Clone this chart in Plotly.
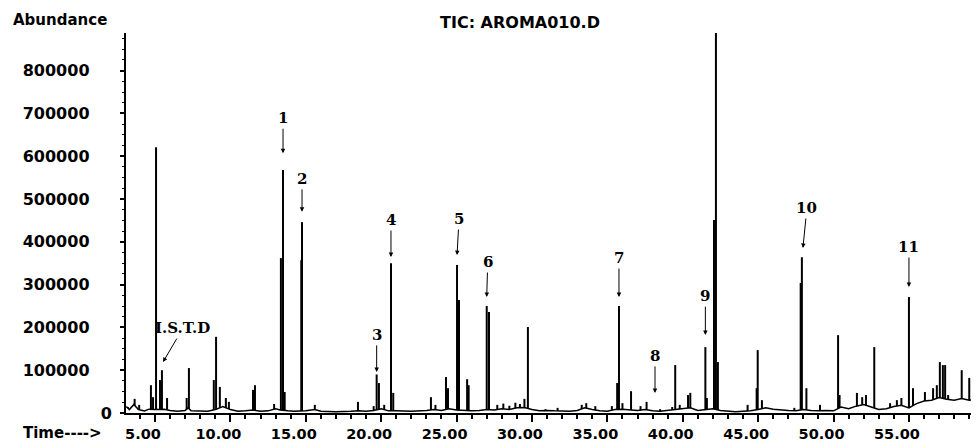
import plotly.graph_objects as go
import numpy as np

# ---- data ----
peak_time = [3.2, 3.65, 3.95, 4.73, 4.87, 5.07, 5.33, 5.46, 5.8, 7.1, 7.25, 8.9, 9.05, 9.3,
             9.7, 9.9, 11.5, 11.63, 12.9, 13.35, 13.49, 13.6, 14.7, 14.75, 15.6, 18.46, 19.5,
             19.7, 19.85, 20.2, 20.65, 20.8, 23.3, 23.6, 24.3, 24.43, 25.03, 25.16, 25.7, 25.8,
             27.0, 27.15, 27.7, 28.1, 28.5, 28.9, 29.2, 29.5, 29.73, 30.9, 31.7, 33.3, 33.6,
             34.2, 35.3, 35.65, 35.77, 36.0, 36.57, 37.2, 37.6, 38.5, 39.3, 39.5, 39.8, 40.35,
             40.5, 41.5, 41.6, 42.07, 42.2, 42.33, 44.3, 44.9, 44.97, 45.25, 47.4, 47.82, 47.9,
             48.2, 49.1, 50.3, 50.4, 51.55, 51.9, 52.15, 52.7, 53.75, 54.2, 54.5, 55.0, 55.27,
             56.06, 56.6, 56.85, 57.05, 57.25, 57.4, 57.6, 58.5, 59.0, 59.4]
peak_abund = [14000, 33000, 19000, 65000, 37000, 621000, 77000, 100000, 35000, 35000, 105000,
              77000, 178000, 61000, 35000, 26000, 54000, 65000, 21000, 362000, 568000, 49000,
              357000, 446000, 19000, 26000, 16000, 90000, 70000, 19000, 350000, 47000, 37000,
              19000, 84000, 58000, 346000, 264000, 79000, 65000, 250000, 236000, 19000, 22000,
              17000, 24000, 21000, 33000, 201000, 9000, 12000, 19000, 23000, 16000, 16000,
              70000, 250000, 23000, 51000, 16000, 26000, 9000, 14000, 112000, 19000, 42000,
              47000, 154000, 35000, 451000, 1000000, 119000, 19000, 58000, 147000, 30000,
              12000, 304000, 364000, 58000, 19000, 182000, 42000, 47000, 37000, 42000, 154000,
              23000, 30000, 35000, 271000, 58000, 49000, 58000, 65000, 119000, 112000, 112000,
              42000, 100000, 82000, 89000]

base_time = [3.1, 3.3, 3.6, 3.9, 4.3, 4.6, 5.0, 5.6, 6.0, 6.5, 7.0, 7.2, 7.4, 8.0, 8.5, 9.0,
             9.5, 10.0, 10.5, 11.0, 11.5, 12.0, 12.5, 13.0, 13.3, 13.8, 14.2, 15.0, 15.6, 16.0,
             17.0, 18.0, 18.5, 19.0, 19.5, 20.0, 20.5, 21.0, 22.0, 23.0, 23.5, 24.0, 24.5, 25.0,
             25.5, 26.0, 26.5, 27.0, 27.5, 28.0, 28.5, 29.0, 29.5, 30.0, 30.5, 31.0, 31.5, 32.0,
             32.5, 33.0, 33.5, 34.0, 34.5, 35.0, 35.5, 36.0, 36.5, 37.0, 37.5, 38.0, 38.5, 39.0,
             39.5, 40.0, 40.5, 41.0, 41.5, 42.0, 42.5, 43.0, 43.5, 44.0, 44.5, 45.0, 45.5, 46.0,
             46.5, 47.0, 47.5, 48.0, 48.5, 49.0, 49.5, 50.0, 50.5, 51.0, 51.5, 52.0, 52.5, 53.0,
             53.5, 54.0, 54.5, 55.0, 55.5, 56.0, 56.5, 57.0, 57.5, 58.0, 58.5, 59.0, 59.6]
base_abund = [15000, 8000, 20000, 8000, 5000, 9000, 8000, 9000, 6000, 4000, 6000, 12000, 5000,
              4000, 4000, 8000, 15000, 8000, 4000, 5000, 7000, 4000, 5000, 10000, 7000, 5000,
              4000, 5000, 8000, 4000, 3000, 4000, 5000, 4000, 6000, 10000, 5000, 5000, 4000,
              6000, 8000, 6000, 10000, 7000, 6000, 5000, 6000, 8000, 7000, 10000, 8000, 12000,
              13000, 8000, 5000, 6000, 5000, 4000, 4000, 6000, 12000, 8000, 5000, 4000, 8000,
              9000, 7000, 6000, 8000, 5000, 4000, 6000, 8000, 10000, 12000, 6000, 8000, 10000,
              6000, 4000, 3000, 4000, 5000, 8000, 12000, 9000, 7000, 6000, 5000, 8000, 6000,
              5000, 6000, 5000, 14000, 10000, 16000, 20000, 14000, 8000, 10000, 15000, 18000,
              12000, 22000, 28000, 30000, 36000, 32000, 30000, 34000, 30000, 32000]

label_text = ["I.S.T.D", "1", "2", "3", "4", "5", "6", "7", "8", "9", "10", "11"]
label_time = [5.53, 13.49, 14.75, 19.7, 20.65, 25.03, 27.0, 35.77, 38.16, 41.5, 47.97, 55.0]
label_tip = [119000, 607000, 470000, 96000, 364500, 369000, 271000, 271000, 47000, 182000,
             385500, 294400]

x_ticks = [5, 10, 15, 20, 25, 30, 35, 40, 45, 50, 55]
x_ticktext = ["5.00", "10.00", "15.00", "20.00", "25.00", "30.00", "35.00", "40.00", "45.00",
              "50.00", "55.00"]
y_ticks = [0, 100000, 200000, 300000, 400000, 500000, 600000, 700000, 800000]
y_ticktext = ["0", "100000", "200000", "300000", "400000", "500000", "600000", "700000",
              "800000"]

# ---- build traces ----
stick_base = np.interp(peak_time, base_time, base_abund)
sx, sy = [], []
for t, h, b in zip(peak_time, peak_abund, stick_base):
    sx += [t, t, None]
    sy += [b, h, None]

fig = go.Figure()
fig.add_trace(go.Scatter(x=base_time, y=base_abund, mode="lines",
                         line=dict(color="black", width=1.5), hoverinfo="skip",
                         showlegend=False))
fig.add_trace(go.Scatter(x=sx, y=sy, mode="lines",
                         line=dict(color="black", width=2), showlegend=False))

# label annotations (text centre offset in px from arrow tip)
offsets = [(20, -34), (0, -35), (0, -33), (0, -37), (0, -37), (2, -36), (1, -35), (0, -39),
           (0, -37), (0, -39), (4, -40), (0, -40)]
for txt, t, v, (ax, ay) in zip(label_text, label_time, label_tip, offsets):
    fig.add_annotation(x=t, y=v, text=txt, showarrow=True, ax=ax, ay=ay,
                       arrowhead=2, arrowsize=0.9, arrowwidth=1, arrowcolor="black",
                       font=dict(family="DejaVu Serif", size=15, color="black", weight="bold"))

fig.add_annotation(xref="paper", yref="paper", x=-0.0775, y=1.034, text="Abundance",
                   showarrow=False, xanchor="center", yanchor="middle",
                   font=dict(family="DejaVu Sans", size=15, color="black", weight="bold"))
fig.add_annotation(xref="paper", yref="paper", x=-0.075, y=-0.0526, text="Time---->",
                   showarrow=False, xanchor="center", yanchor="middle",
                   font=dict(family="DejaVu Sans", size=15, color="black", weight="bold"))

# the nonzero labels sit further from the axis than "0" (padding after the digits)
pad = "&nbsp;" * 4
y_ticktext_shown = [s if s == "0" else s + pad for s in y_ticktext]

# the page body has an 8px margin, so the figure is sized/placed to land on the window
W, H = 971, 439
fig.update_layout(
    width=W, height=H,
    margin=dict(l=118, r=1, t=25, b=34),
    paper_bgcolor="white", plot_bgcolor="white",
    title=dict(text="TIC: AROMA010.D", x=512 / W, y=1 - 14 / H,
               xanchor="center", yanchor="middle",
               font=dict(family="DejaVu Sans", size=16, color="black", weight="bold")),
    xaxis=dict(range=[3.077, 59.58], showgrid=False, zeroline=False,
               showline=True, linecolor="black", linewidth=2,
               tickvals=x_ticks, ticktext=x_ticktext, ticks="outside", ticklen=7,
               tickwidth=2, tickcolor="black", ticklabelshift=-12,
               tickfont=dict(family="DejaVu Sans", size=14.5, color="black", weight="bold"),
               minor=dict(dtick=1, tick0=0, ticks="outside", ticklen=4, tickwidth=1.5,
                          tickcolor="black")),
    yaxis=dict(range=[0, 888000], showgrid=False, zeroline=False,
               showline=True, linecolor="black", linewidth=2,
               tickvals=y_ticks, ticktext=y_ticktext_shown, ticks="outside", ticklen=4,
               tickwidth=1.5, tickcolor="black", ticklabelstandoff=5,
               tickfont=dict(family="DejaVu Sans", size=16, color="black", weight="bold"),
               minor=dict(dtick=25000, tick0=0, ticks="outside", ticklen=2, tickwidth=1,
                          tickcolor="black")),
)

fig.write_html("out.html")
